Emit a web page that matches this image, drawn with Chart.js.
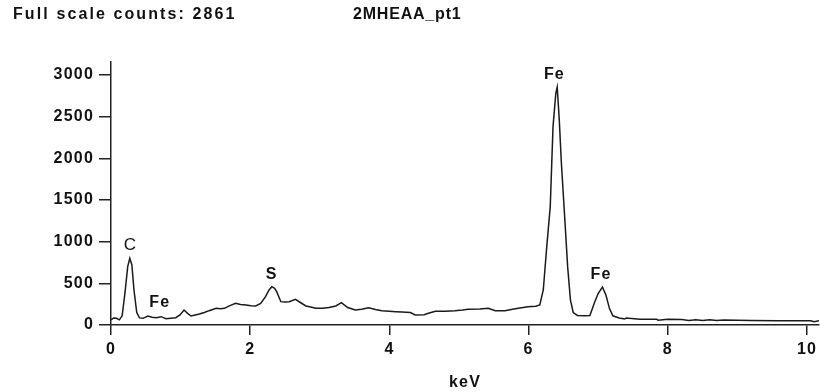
<!DOCTYPE html>
<html>
<head>
<meta charset="utf-8">
<script src="https://cdn.jsdelivr.net/npm/chart.js@4.4.1/dist/chart.umd.min.js"></script>
<style>
  html, body { margin: 0; padding: 0; background: #fff; }
  #wrap { position: relative; width: 821px; height: 392px; overflow: hidden; }
  canvas { position: absolute; left: 0; top: 0; }
  .hdr { position: absolute; top: 5px; font: bold 16px "Liberation Sans", Arial, sans-serif; color: #111; white-space: nowrap; }
</style>
</head>
<body>
<div id="wrap">
  <canvas id="c" width="821" height="392"></canvas>
  <div class="hdr" style="left:13px; letter-spacing:2.1px">Full scale counts: 2861</div>
  <div class="hdr" style="left:353px; letter-spacing:0.8px">2MHEAA_pt1</div>
</div>
<script>
// Spectrum (energy in keV, counts)
const energy = [0.00,0.04,0.08,0.12,0.16,0.20,0.24,0.27,0.30,0.33,0.37,0.41,0.46,0.53,0.59,0.65,0.72,0.79,0.86,0.93,0.99,1.05,1.10,1.15,1.21,1.27,1.34,1.41,1.51,1.57,1.63,1.70,1.79,1.86,1.94,2.01,2.08,2.15,2.22,2.27,2.31,2.35,2.38,2.44,2.50,2.56,2.65,2.72,2.80,2.87,2.94,3.04,3.13,3.23,3.31,3.40,3.51,3.60,3.70,3.80,3.89,4.00,4.09,4.18,4.30,4.37,4.50,4.56,4.66,4.80,4.94,5.05,5.13,5.30,5.42,5.52,5.66,5.75,5.85,5.99,6.10,6.16,6.21,6.26,6.31,6.33,6.35,6.39,6.41,6.44,6.47,6.52,6.56,6.60,6.64,6.70,6.80,6.88,6.95,7.00,7.06,7.11,7.16,7.21,7.30,7.38,7.40,7.60,7.84,7.86,8.00,8.20,8.30,8.40,8.50,8.60,8.70,8.80,9.20,9.60,10.05,10.10,10.17];
const counts = [60,85,80,62,110,380,700,800,720,420,150,85,80,108,92,88,100,76,82,88,120,180,140,108,120,132,150,172,200,195,200,230,260,245,240,232,228,260,340,420,460,440,400,280,275,280,308,270,228,215,200,200,210,228,268,210,180,190,208,185,172,165,160,156,150,120,124,140,165,165,172,180,188,192,200,172,172,185,200,220,225,240,420,940,1420,1900,2380,2780,2855,2460,1944,1260,700,300,150,115,112,115,280,380,455,360,200,110,85,72,84,70,68,58,68,66,54,64,55,64,55,60,55,52,52,40,52];

// Peak identification labels
const peakNames = ["C","Fe","S","Fe","Fe"];
const peakEnergies = [0.28,0.70,2.31,6.37,7.04];
const peakCounts = [960,264,600,3000,600];
const peakBold = [false,true,true,true,true];

// Axis ticks
const xTicks = [0,2,4,6,8,10];
const yTicks = [0,500,1000,1500,2000,2500,3000];

const FONT = '"Liberation Sans", Arial, sans-serif';
const points = energy.map((e, i) => ({x: e, y: counts[i]}));

const spacingPlugin = {
  id: 'spacing',
  beforeDraw(chart) { chart.ctx.letterSpacing = '1.2px'; }
};

const peakLabelPlugin = {
  id: 'peakLabels',
  afterDatasetsDraw(chart) {
    const ctx = chart.ctx, xs = chart.scales.x, ys = chart.scales.y;
    ctx.save();
    ctx.fillStyle = '#111';
    ctx.textAlign = 'center';
    ctx.textBaseline = 'middle';
    peakNames.forEach((n, i) => {
      ctx.font = (peakBold[i] ? 'bold 16px ' : '17px ') + FONT;
      ctx.fillText(n, xs.getPixelForValue(peakEnergies[i]), ys.getPixelForValue(peakCounts[i]));
    });
    ctx.restore();
  }
};

const tickFont = {family: FONT, size: 16, weight: 'bold'};

new Chart(document.getElementById('c'), {
  type: 'line',
  data: {
    datasets: [{
      data: points,
      borderColor: '#1a1a1a',
      borderWidth: 1.5,
      pointRadius: 0,
      tension: 0,
      fill: false
    }]
  },
  options: {
    responsive: false,
    devicePixelRatio: 1,
    animation: false,
    layout: {padding: {top: 62, right: 0, left: 0, bottom: 0}},
    plugins: {legend: {display: false}, tooltip: {enabled: false}},
    scales: {
      x: {
        type: 'linear', min: 0, max: 10.17,
        afterFit(s) { s.height = 67; },
        afterBuildTicks(s) { s.ticks = xTicks.map(v => ({value: v})); },
        grid: {drawOnChartArea: false, drawTicks: true, tickLength: 10, color: '#222', lineWidth: 1.5},
        border: {display: true, color: '#222', width: 1.5},
        ticks: {color: '#111', font: tickFont, padding: 5, maxRotation: 0, callback: v => String(v)},
        title: {display: true, text: 'keV', color: '#111', font: {family: FONT, size: 16, weight: 'bold'}, padding: {top: 10, bottom: 0}}
      },
      y: {
        type: 'linear', min: 0, max: 3156,
        afterFit(s) { s.width = 111; },
        afterBuildTicks(s) { s.ticks = yTicks.map(v => ({value: v})); },
        grid: {drawOnChartArea: false, drawTicks: true, tickLength: 12, color: '#222', lineWidth: 1.5},
        border: {display: true, color: '#222', width: 1.5},
        ticks: {color: '#111', font: tickFont, padding: 5, callback: v => String(v)}
      }
    }
  },
  plugins: [spacingPlugin, peakLabelPlugin]
});
</script>
</body>
</html>
